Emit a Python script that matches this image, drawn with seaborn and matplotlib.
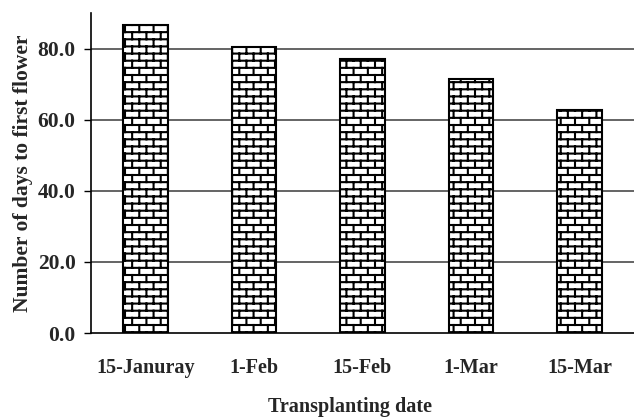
import warnings
import numpy as np
import matplotlib
matplotlib.use("Agg")
from matplotlib import pyplot as plt
from matplotlib import hatch as mhatch
from matplotlib.path import Path
import seaborn as sns

warnings.filterwarnings("ignore")

# data
dates = ["15-Januray", "1-Feb", "15-Feb", "1-Mar", "15-Mar"]
days = [86.6, 80.4, 77.1, 71.4, 62.7]
y_ticks = [0, 20, 40, 60, 80]


## brick hatch, used by putting 'b' in the hatch string
class BrickHatch(mhatch.HatchPatternBase):
    def __init__(self, hatch, density):
        self.rows = 14 * hatch.count('b')
        self.cols = self.rows // 2
        self.segs = self._segments() if self.rows else []
        self.num_lines = len(self.segs)
        self.num_vertices = 2 * self.num_lines

    def _segments(self):
        r, c = self.rows, self.cols
        segs = []
        for i in range(r):
            y0 = (i + 0.5) / r
            y1 = y0 + 1 / r
            segs.append([(0, y0), (1, y0)])
            off = 0.25 if i % 2 == 0 else 0.75
            for j in range(c):
                x = (j + off) / c
                if y1 > 1:
                    segs.append([(x, y0), (x, 1)])
                    segs.append([(x, 0), (x, y1 - 1)])
                else:
                    segs.append([(x, y0), (x, y1)])
        return segs

    def set_vertices_and_codes(self, vertices, codes):
        vertices[:] = np.array(self.segs, dtype=float).reshape(-1, 2)
        codes[0::2] = Path.MOVETO
        codes[1::2] = Path.LINETO


mhatch._hatch_types.append(BrickHatch)

sns.set_style("white")
plt.rcParams['font.family'] = ['Liberation Serif', 'DejaVu Serif']
plt.rcParams['font.weight'] = 'bold'
plt.rcParams['hatch.color'] = 'black'
plt.rcParams['hatch.linewidth'] = 1.5

fig = plt.figure(figsize=(6.34, 4.18), dpi=100)
ax = fig.add_axes([0.1435, 0.2033, 0.8565, 0.7656])

sns.barplot(x=dates, y=days, color='white', edgecolor='black', linewidth=1.5,
            hatch='b', width=0.41, saturation=1, ax=ax, zorder=3)

ax.set_ylim(0, 90)
ax.set_xlim(-0.5, 4.5)
ax.set_yticks(y_ticks)
ax.set_yticklabels([f"{v:.1f}" for v in y_ticks])
for v in y_ticks[1:]:
    ax.axhline(v, color='#3a3a3a', lw=1.1, zorder=1)

ax.set_xticks(np.arange(0.5, 4.5), minor=True)
ax.tick_params(axis='x', which='major', length=0, pad=18, labelsize=14.5)
ax.tick_params(axis='x', which='minor', length=5, width=1, direction='out', color='black')
ax.tick_params(axis='y', length=5, width=1, direction='out', color='black', pad=6, labelsize=15.5, left=True)

for s in ['top', 'right']:
    ax.spines[s].set_visible(False)
for s in ['left', 'bottom']:
    ax.spines[s].set_color('black')
    ax.spines[s].set_linewidth(1.2)

ax.set_ylabel('Number of days to first flower', fontsize=15.5, fontweight='bold', labelpad=3)
ax.set_xlabel('Transplanting date', fontsize=14.5, fontweight='bold', va='top')
ax.xaxis.set_label_coords(0.477, -0.2)

fig.savefig('out.png', dpi=100)
